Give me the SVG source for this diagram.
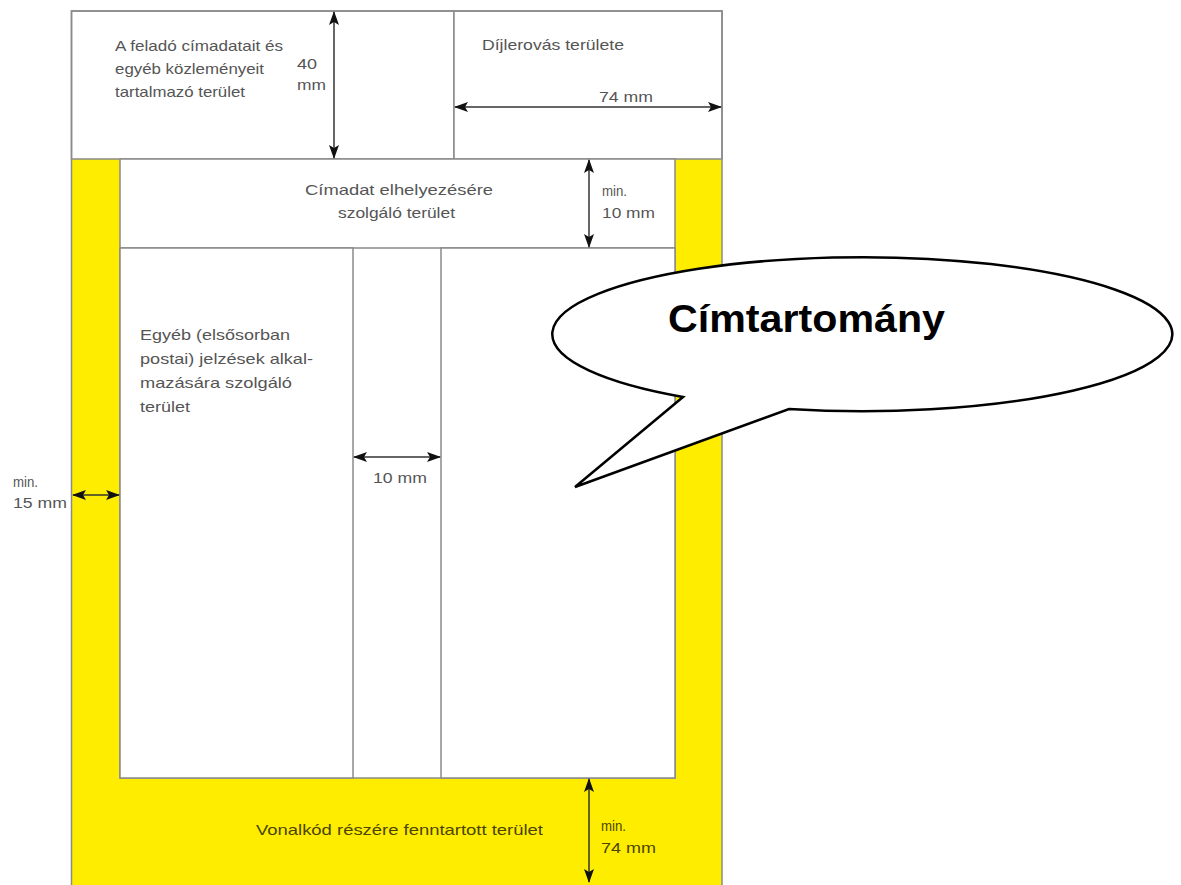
<svg xmlns="http://www.w3.org/2000/svg" width="1181" height="885" viewBox="0 0 1181 885">
  <style>
    .frame { fill: none; stroke: #8a8a8a; stroke-width: 1.5; }
    .box { fill: #ffffff; stroke: #8a8a8a; stroke-width: 1.5; }
    .lbl { font-family: "Liberation Sans", Arial, sans-serif; font-size: 15px; fill: #555555; }
    .lbl-dark { font-family: "Liberation Sans", Arial, sans-serif; font-size: 15px; fill: #4a4400; }
    .dim { stroke: #333333; stroke-width: 1.5; fill: none; marker-start: url(#head); marker-end: url(#head); }
    .callout { fill: #ffffff; stroke: #000000; stroke-width: 2.5; stroke-linejoin: miter; }
    .title { font-family: "Liberation Sans", Arial, sans-serif; font-size: 38px; font-weight: bold; fill: #000000; }
  </style>
  <defs>
    <marker id="head" viewBox="0 0 14 10" refX="13" refY="5" markerWidth="14" markerHeight="10" markerUnits="userSpaceOnUse" orient="auto-start-reverse">
      <path d="M0,0 L14,5 L0,10 L3,5 Z" fill="#111111"/>
    </marker>
  </defs>

  <!-- sheet background: yellow reserved margins -->
  <rect x="71.5" y="159" width="650.5" height="730" fill="#ffed00"/>

  <!-- top band -->
  <g id="sender-area">
    <rect class="box" x="71.5" y="11" width="382.5" height="148"/>
    <text class="lbl" x="115" y="51" textLength="168" lengthAdjust="spacingAndGlyphs">A feladó címadatait és</text>
    <text class="lbl" x="115" y="74" textLength="149" lengthAdjust="spacingAndGlyphs">egyéb közleményeit</text>
    <text class="lbl" x="115" y="97" textLength="130" lengthAdjust="spacingAndGlyphs">tartalmazó terület</text>
  </g>
  <g id="postage-area">
    <rect class="box" x="454" y="11" width="268" height="148"/>
    <text class="lbl" x="482" y="50" textLength="142" lengthAdjust="spacingAndGlyphs">Díjlerovás területe</text>
  </g>

  <!-- address zone -->
  <g id="address-area">
    <rect class="box" x="120" y="159" width="555" height="619"/>
    <line class="frame" x1="120" y1="248" x2="675" y2="248"/>
    <text class="lbl" x="305" y="195" textLength="188" lengthAdjust="spacingAndGlyphs">Címadat elhelyezésére</text>
    <text class="lbl" x="338" y="218" textLength="117" lengthAdjust="spacingAndGlyphs">szolgáló terület</text>
  </g>
  <g id="other-marks-area">
    <rect class="box" x="120" y="248" width="233" height="530"/>
    <text class="lbl" x="140" y="340" textLength="150" lengthAdjust="spacingAndGlyphs">Egyéb (elsősorban</text>
    <text class="lbl" x="140" y="364" textLength="173" lengthAdjust="spacingAndGlyphs">postai) jelzések alkal-</text>
    <text class="lbl" x="140" y="388" textLength="152" lengthAdjust="spacingAndGlyphs">mazására szolgáló</text>
    <text class="lbl" x="140" y="412" textLength="50" lengthAdjust="spacingAndGlyphs">terület</text>
  </g>
  <g id="address-range-area">
    <rect class="box" x="441" y="248" width="234" height="530"/>
  </g>
  <g id="barcode-area">
    <text class="lbl-dark" x="256" y="835" textLength="287" lengthAdjust="spacingAndGlyphs">Vonalkód részére fenntartott  terület</text>
  </g>

  <!-- outer sheet edge -->
  <path class="frame" d="M71.5,889 V11 H722 V889"/>

  <!-- dimension lines -->
  <g id="dimensions">
    <line class="dim" x1="334" y1="12" x2="334" y2="158"/>
    <line class="dim" x1="455" y1="107" x2="721" y2="107"/>
    <line class="dim" x1="589" y1="160" x2="589" y2="247"/>
    <line class="dim" x1="354" y1="457" x2="440" y2="457"/>
    <line class="dim" x1="73" y1="495" x2="119" y2="495"/>
    <line class="dim" x1="589" y1="779" x2="589" y2="882"/>
  </g>

  <g id="dimension-labels">
    <text class="lbl" x="297" y="69" textLength="20" lengthAdjust="spacingAndGlyphs">40</text>
    <text class="lbl" x="297" y="90" textLength="29" lengthAdjust="spacingAndGlyphs">mm</text>
    <text class="lbl" x="599" y="102" textLength="54" lengthAdjust="spacingAndGlyphs">74 mm</text>
    <text class="lbl" x="602" y="196" textLength="25" lengthAdjust="spacingAndGlyphs">min.</text>
    <text class="lbl" x="602" y="218" textLength="53" lengthAdjust="spacingAndGlyphs">10 mm</text>
    <text class="lbl" x="373" y="483" textLength="54" lengthAdjust="spacingAndGlyphs">10 mm</text>
    <text class="lbl" x="13" y="487" textLength="25" lengthAdjust="spacingAndGlyphs">min.</text>
    <text class="lbl" x="13" y="508" textLength="54" lengthAdjust="spacingAndGlyphs">15 mm</text>
    <text class="lbl-dark" x="601" y="831" textLength="25" lengthAdjust="spacingAndGlyphs">min.</text>
    <text class="lbl-dark" x="601" y="853" textLength="55" lengthAdjust="spacingAndGlyphs">74 mm</text>
  </g>

  <!-- speech bubble -->
  <g id="callout">
    <path class="callout" d="M683,397 L575,487 L789,409 A310,77 0 1 0 683,397 Z"/>
    <text class="title" x="668" y="332" textLength="277" lengthAdjust="spacingAndGlyphs">Címtartomány</text>
  </g>
</svg>
